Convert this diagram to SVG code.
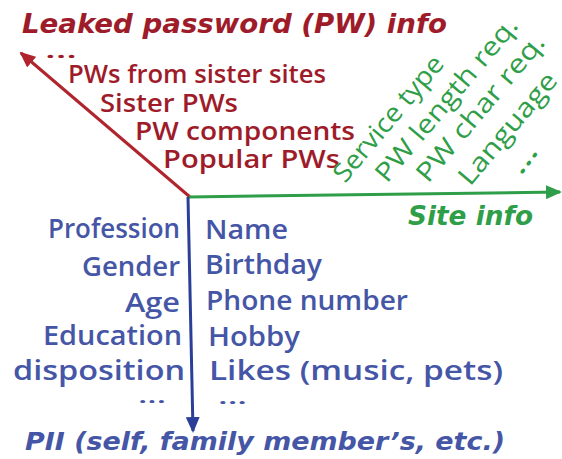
<svg xmlns="http://www.w3.org/2000/svg" width="562" height="459" viewBox="0 0 562 459">
  <style>
    .title { font-family: "DejaVu Sans", Verdana, sans-serif; font-weight: bold; font-style: italic; }
    .item { font-family: "Open Sans", "Liberation Sans", sans-serif; font-weight: 600; }
    .slant { font-family: "Open Sans", "Liberation Sans", sans-serif; font-weight: 400; }
    .red { fill: #9e1c2a; }
    .green { fill: #2f9e48; }
    .blue { fill: #4656a6; }
    .axis { fill: none; stroke-width: 3; }
  </style>
  <defs>
    <marker id="head-red" markerUnits="userSpaceOnUse" markerWidth="16" markerHeight="14" refX="14" refY="7" orient="auto">
      <path d="M0,0 L16,7 L0,14 z" fill="#b0252d"/>
    </marker>
    <marker id="head-green" markerUnits="userSpaceOnUse" markerWidth="16" markerHeight="14" refX="14" refY="7" orient="auto">
      <path d="M0,0 L16,7 L0,14 z" fill="#2f9e48"/>
    </marker>
    <marker id="head-blue" markerUnits="userSpaceOnUse" markerWidth="16" markerHeight="14" refX="14" refY="7" orient="auto">
      <path d="M0,0 L16,7 L0,14 z" fill="#2c3f98"/>
    </marker>
  </defs>

  <rect width="562" height="459" fill="#ffffff"/>

  <!-- axes -->
  <g id="connectors">
    <line class="axis" x1="190" y1="197" x2="21" y2="53" stroke="#b0252d" marker-end="url(#head-red)"/>
    <line class="axis" x1="189" y1="197" x2="560" y2="192" stroke="#2f9e48" marker-end="url(#head-green)"/>
    <line class="axis" x1="188" y1="197" x2="193" y2="431" stroke="#2c3f98" marker-end="url(#head-blue)"/>
  </g>

  <!-- leaked password axis -->
  <g id="leaked-pw">
    <text class="title red" x="22" y="33" font-size="27" textLength="425" lengthAdjust="spacingAndGlyphs">Leaked password (PW) info</text>
    <text class="item red" x="45" y="58" font-size="22" font-weight="bold" textLength="32" lengthAdjust="spacingAndGlyphs">...</text>
    <text class="item red" x="68" y="83" font-size="26" textLength="258" lengthAdjust="spacingAndGlyphs">PWs from sister sites</text>
    <text class="item red" x="100" y="112" font-size="26" textLength="138" lengthAdjust="spacingAndGlyphs">Sister PWs</text>
    <text class="item red" x="135" y="140" font-size="26" textLength="220" lengthAdjust="spacingAndGlyphs">PW components</text>
    <text class="item red" x="163" y="168" font-size="26" textLength="177" lengthAdjust="spacingAndGlyphs">Popular PWs</text>
  </g>

  <!-- site info axis -->
  <g id="site-info">
    <text class="title green" x="408" y="225" font-size="27" textLength="125" lengthAdjust="spacingAndGlyphs">Site info</text>
    <text class="slant green" transform="translate(345,184) rotate(-50)" font-size="26" textLength="156" lengthAdjust="spacingAndGlyphs">Service type</text>
    <text class="slant green" transform="translate(387,184) rotate(-50)" font-size="26" textLength="206" lengthAdjust="spacingAndGlyphs">PW length req.</text>
    <text class="slant green" transform="translate(428,184) rotate(-50)" font-size="26" textLength="184" lengthAdjust="spacingAndGlyphs">PW char req.</text>
    <text class="slant green" transform="translate(470,187) rotate(-50)" font-size="26" textLength="138" lengthAdjust="spacingAndGlyphs">Language</text>
    <text class="item green" transform="translate(521,176) rotate(-53)" font-size="26" font-weight="bold" textLength="30" lengthAdjust="spacingAndGlyphs">...</text>
  </g>

  <!-- PII axis -->
  <g id="pii">
    <text class="title blue" x="25" y="450" font-size="25" textLength="480" lengthAdjust="spacingAndGlyphs">PII (self, family member’s, etc.)</text>
    <g text-anchor="end">
      <text class="item blue" x="180" y="238" font-size="27" textLength="132" lengthAdjust="spacingAndGlyphs">Profession</text>
      <text class="item blue" x="180" y="276" font-size="27" textLength="98" lengthAdjust="spacingAndGlyphs">Gender</text>
      <text class="item blue" x="180" y="312" font-size="27" textLength="55" lengthAdjust="spacingAndGlyphs">Age</text>
      <text class="item blue" x="182" y="345" font-size="27" textLength="139" lengthAdjust="spacingAndGlyphs">Education</text>
      <text class="item blue" x="185" y="380" font-size="27" textLength="172" lengthAdjust="spacingAndGlyphs">disposition</text>
      <text class="item blue" x="166" y="403" font-size="20" font-weight="bold" textLength="28" lengthAdjust="spacingAndGlyphs">...</text>
    </g>
    <text class="item blue" x="205" y="239" font-size="27" textLength="83" lengthAdjust="spacingAndGlyphs">Name</text>
    <text class="item blue" x="205" y="274" font-size="27" textLength="117" lengthAdjust="spacingAndGlyphs">Birthday</text>
    <text class="item blue" x="206" y="310" font-size="27" textLength="202" lengthAdjust="spacingAndGlyphs">Phone number</text>
    <text class="item blue" x="208" y="346" font-size="27" textLength="92" lengthAdjust="spacingAndGlyphs">Hobby</text>
    <text class="item blue" x="209" y="380" font-size="27" textLength="294" lengthAdjust="spacingAndGlyphs">Likes (music, pets)</text>
    <text class="item blue" x="218" y="404" font-size="20" font-weight="bold" textLength="29" lengthAdjust="spacingAndGlyphs">...</text>
  </g>
</svg>
